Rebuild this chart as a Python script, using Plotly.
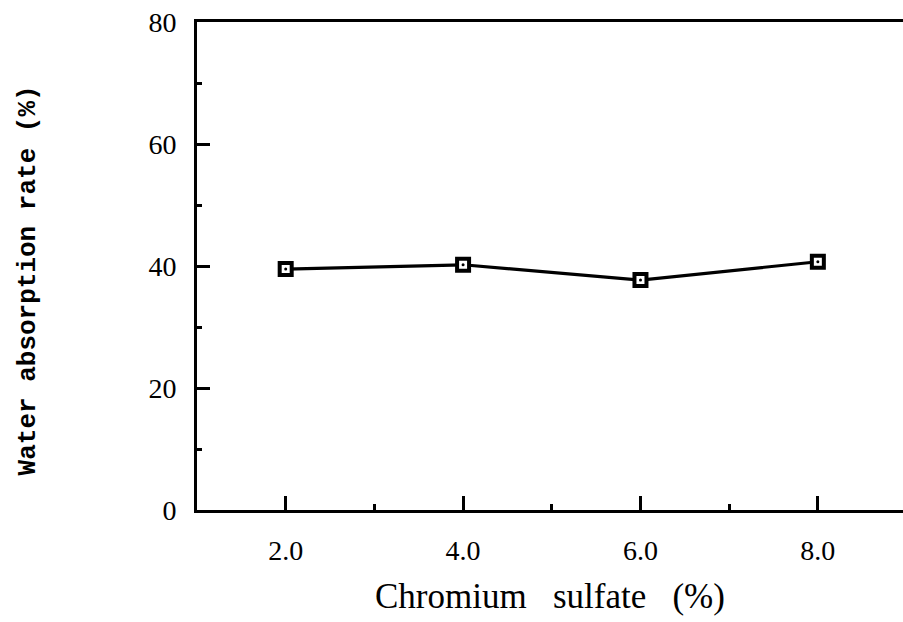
import plotly.graph_objects as go

# Chromium sulfate dosage (%) and measured water absorption rate (%)
chromium_sulfate = [2.0, 4.0, 6.0, 8.0]
water_absorption = [39.5, 40.2, 37.7, 40.7]

x_major_ticks = [2.0, 4.0, 6.0, 8.0]
x_minor_ticks = [3.0, 5.0, 7.0]
y_major_ticks = [0, 20, 40, 60, 80]

SERIF = "Liberation Serif, Times New Roman, serif"

fig = go.Figure()

# connecting line
fig.add_trace(go.Scatter(
    x=chromium_sulfate, y=water_absorption, mode="lines",
    line=dict(color="black", width=3.2), hoverinfo="skip", showlegend=False,
))
# open square markers
fig.add_trace(go.Scatter(
    x=chromium_sulfate, y=water_absorption, mode="markers",
    marker=dict(symbol="square", size=12, color="white",
                line=dict(color="black", width=4)),
    showlegend=False,
))
# small centre dot inside each square
fig.add_trace(go.Scatter(
    x=chromium_sulfate, y=water_absorption, mode="markers",
    marker=dict(symbol="circle", size=3, color="black"),
    hoverinfo="skip", showlegend=False,
))

fig.update_layout(
    width=903, height=622,
    margin=dict(l=197, r=0, t=22, b=112),
    paper_bgcolor="white", plot_bgcolor="white",
    font=dict(family=SERIF, color="black"),
    xaxis=dict(
        range=[1.0, 8.96], showgrid=False, zeroline=False,
        showline=True, linecolor="black", linewidth=3, mirror=True,
        ticks="inside", ticklen=14, tickwidth=2.5, tickcolor="black",
        tickvals=x_major_ticks, ticktext=[f"{v:.1f}" for v in x_major_ticks],
        tickfont=dict(family=SERIF, size=28),
        ticklabelstandoff=13,
        minor=dict(tickvals=x_minor_ticks, ticks="inside", ticklen=6,
                   tickwidth=2.5, tickcolor="black"),
    ),
    yaxis=dict(
        range=[0, 80], showgrid=False, zeroline=False,
        showline=True, linecolor="black", linewidth=3,
        ticks="inside", ticklen=13, tickwidth=2.5, tickcolor="black",
        tickvals=y_major_ticks, ticktext=[str(v) for v in y_major_ticks],
        tickfont=dict(family=SERIF, size=28),
        ticklabelstandoff=12,
        minor=dict(dtick=10, ticks="inside", ticklen=5,
                   tickwidth=2.5, tickcolor="black"),
    ),
    annotations=[
        dict(text="Chromium\u00a0\u00a0 sulfate\u00a0\u00a0 (%)",
             xref="paper", yref="paper", x=0.5, y=-0.178,
             xanchor="center", yanchor="middle", showarrow=False,
             font=dict(family=SERIF, size=35)),
        dict(text="<b>Water absorption rate (%)</b>",
             xref="paper", yref="paper", x=-0.239, y=0.471,
             xanchor="center", yanchor="middle", showarrow=False,
             textangle=-90,
             font=dict(family="Liberation Mono, Courier New, monospace", size=26)),
    ],
)

fig.write_html("out.html")
